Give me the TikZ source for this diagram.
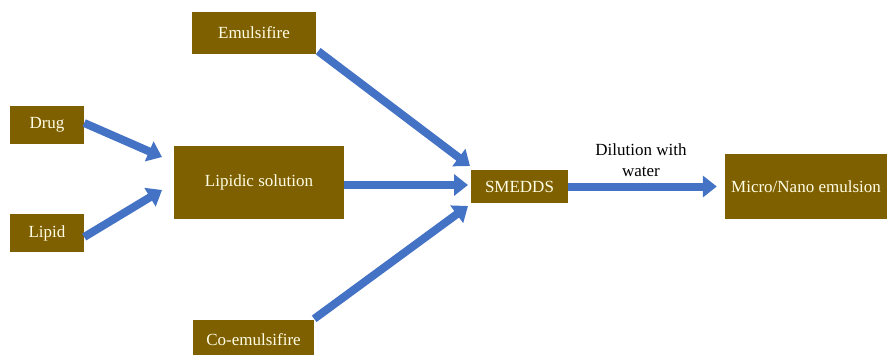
\documentclass[tikz,border=0pt]{standalone}
\usepackage{fontspec}
\setmainfont{Liberation Serif}
\usetikzlibrary{arrows.meta}
\definecolor{boxbrown}{HTML}{7F6000}
\definecolor{flowblue}{HTML}{4472C4}
\tikzset{
  stage/.style={fill=boxbrown, text=white!90!yellow, font=\fontsize{17pt}{20pt}\selectfont, align=center, inner sep=0pt},
  flow/.style={color=flowblue, line width=8pt, -{Triangle[length=14pt,width=21pt]}}
}
\begin{document}
\begin{tikzpicture}
\useasboundingbox (0pt,0pt) rectangle (892pt,-354pt);
\node[stage, minimum width=124pt, minimum height=42pt] (emul) at (254pt,-33pt) {Emulsifire};
\node[stage, minimum width=74pt, minimum height=38pt] (drug) at (47pt,-125pt) {Drug};
\node[stage, minimum width=74pt, minimum height=38pt] (lipid) at (47pt,-233pt) {Lipid};
\node[stage, minimum width=170pt, minimum height=73pt] (lipsol) at (259pt,-182pt) {Lipidic solution};
\node[stage, minimum width=121pt, minimum height=40pt] (coemul) at (253.5pt,-340pt) {Co-emulsifire};
\node[stage, minimum width=97pt, minimum height=33pt] (smedds) at (519.5pt,-186.5pt) {SMEDDS};
\node[stage, minimum width=162pt, minimum height=65pt] (micro) at (806pt,-186.5pt) {Micro/Nano emulsion};
\coordinate (drugend) at (162pt,-157pt);
\coordinate (lipidend) at (162pt,-190pt);
\coordinate (emulend) at (470pt,-166pt);
\coordinate (solend) at (468pt,-185pt);
\coordinate (coemulend) at (468pt,-206pt);
\draw[flow] (drug.east |- 0,-123pt) -- (drugend);
\draw[flow] (lipid.east |- 0,-237pt) -- (lipidend);
\draw[flow] ([xshift=2pt,yshift=3pt]emul.south east) -- (emulend);
\draw[flow] (lipsol.east |- 0,-185pt) -- (solend);
\draw[flow] ([yshift=1pt]coemul.north east) -- (coemulend);
\draw[flow] (smedds.east) -- ([xshift=-8pt]micro.west);
\node[font=\fontsize{17pt}{21pt}\selectfont, align=center] (dilute) at (641pt,-160pt) {Dilution with\\water};
\end{tikzpicture}
\end{document}
